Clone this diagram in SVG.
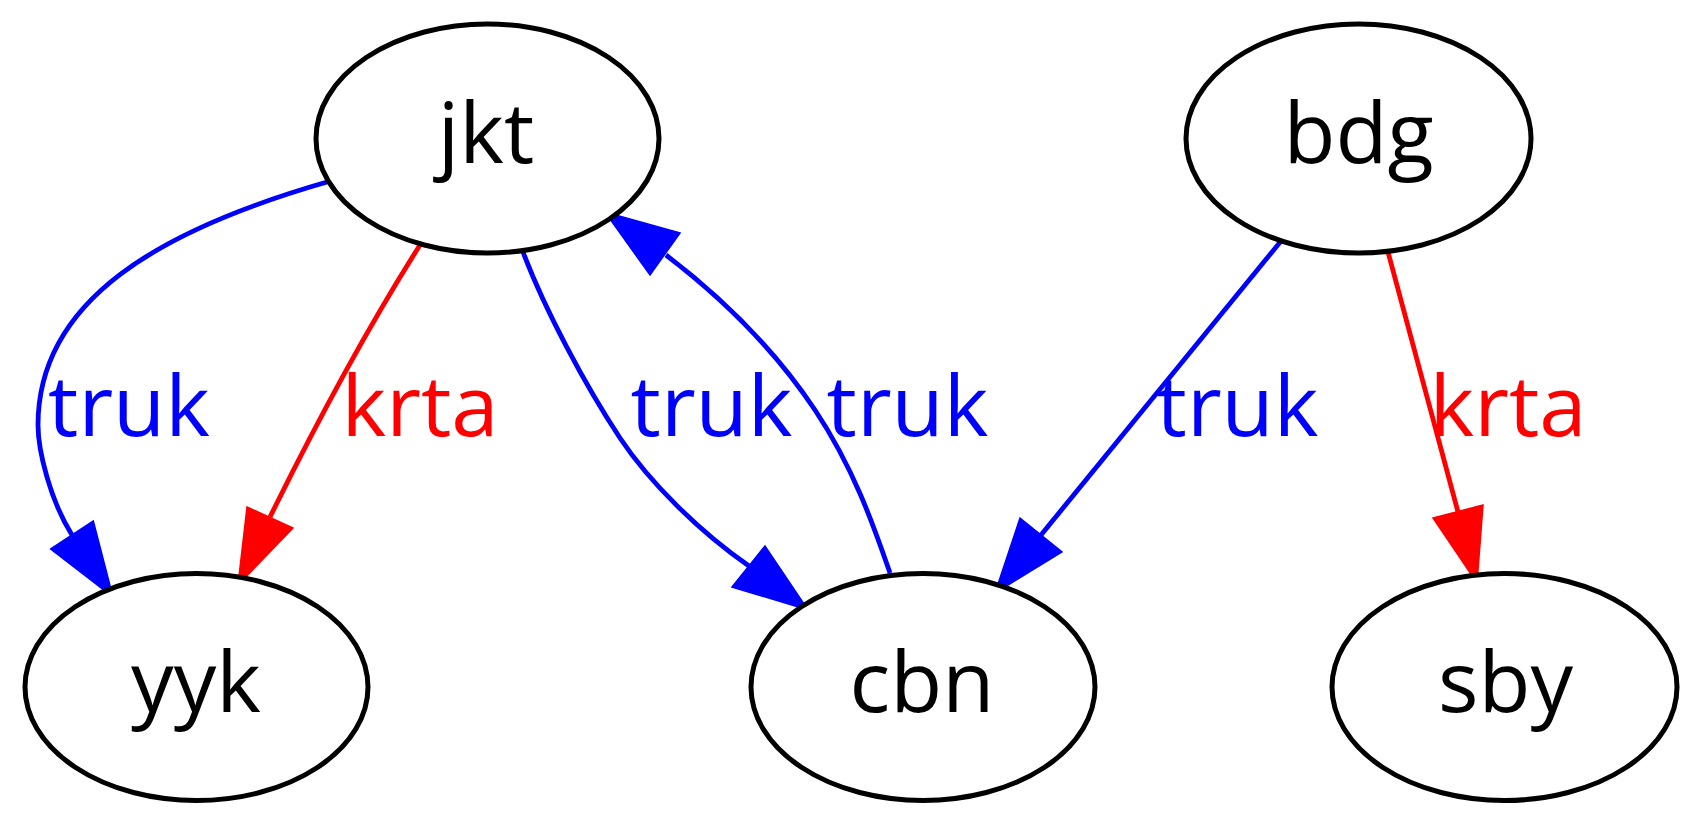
<svg xmlns="http://www.w3.org/2000/svg" width="1700" height="826" viewBox="0 0 1700 826">
<style>
.node ellipse{fill:#fff;stroke:#000;stroke-width:5}
.node text{font-family:"Open Sans","Noto Sans",sans-serif;font-size:85px;fill:#000;text-anchor:middle}
.e{fill:none;stroke-width:4.8}
.b{stroke:#0000ff}
.r{stroke:#ff0000}
.hb{fill:#0000ff;stroke:#0000ff;stroke-width:1.5}
.hr{fill:#ff0000;stroke:#ff0000;stroke-width:1.5}
.lbl{font-family:"Open Sans","Noto Sans",sans-serif;font-size:85px;text-anchor:middle}
.lb{fill:#0000ff}
.lr{fill:#ff0000}
</style>
<rect width="1700" height="826" fill="#fff"/>
<g id="connectors">
<g id="e-jkt-yyk-truk">
<path class="e b" d="M327,182 C160,230 38,300 38,425 C38,450 50,500 72,535"/>
<polygon class="hb" points="50.7,549 93.3,521 113,597"/>
<text class="lbl lb" x="129" y="436">truk</text>
</g>
<g id="e-jkt-yyk-krta">
<path class="e r" d="M420,245 C380,308 335,385 270,517"/>
<polygon class="hr" points="247,507 293,528 238,585"/>
<text class="lbl lr" x="420" y="436">krta</text>
</g>
<g id="e-jkt-cbn-truk">
<path class="e b" d="M523,252 C545,310 585,385 620,438 C650,483 700,532 749,566"/>
<polygon class="hb" points="732,587 765,546 808,610"/>
<text class="lbl lb" x="711.5" y="436">truk</text>
</g>
<g id="e-cbn-jkt-truk">
<path class="e b" d="M890,573 C875,530 855,470 815,410 C775,350 725,300 666,255"/>
<polygon class="hb" points="680,233 650,275 605,212"/>
<text class="lbl lb" x="907.5" y="436">truk</text>
</g>
<g id="e-bdg-cbn-truk">
<path class="e b" d="M1281,241 L1041,535"/>
<polygon class="hb" points="1020,518 1062,552 995,593"/>
<text class="lbl lb" x="1237.5" y="436">truk</text>
</g>
<g id="e-bdg-sby-krta">
<path class="e r" d="M1388,252 L1458,512"/>
<polygon class="hr" points="1433,518 1483,505 1477,583"/>
<text class="lbl lr" x="1508" y="436">krta</text>
</g>
</g>
<g id="jkt" class="node"><ellipse cx="487.5" cy="138.5" rx="171.5" ry="114.5"/><text x="486" y="163">jkt</text></g>
<g id="bdg" class="node"><ellipse cx="1358.5" cy="138.5" rx="172.5" ry="114.5"/><text x="1358.5" y="163">bdg</text></g>
<g id="yyk" class="node"><ellipse cx="196.5" cy="687" rx="171.5" ry="113.5"/><text x="196" y="712">yyk</text></g>
<g id="cbn" class="node"><ellipse cx="923" cy="687" rx="172" ry="113.5"/><text x="922" y="712">cbn</text></g>
<g id="sby" class="node"><ellipse cx="1504.5" cy="687" rx="172.5" ry="113.5"/><text x="1505.5" y="712">sby</text></g>
</svg>
